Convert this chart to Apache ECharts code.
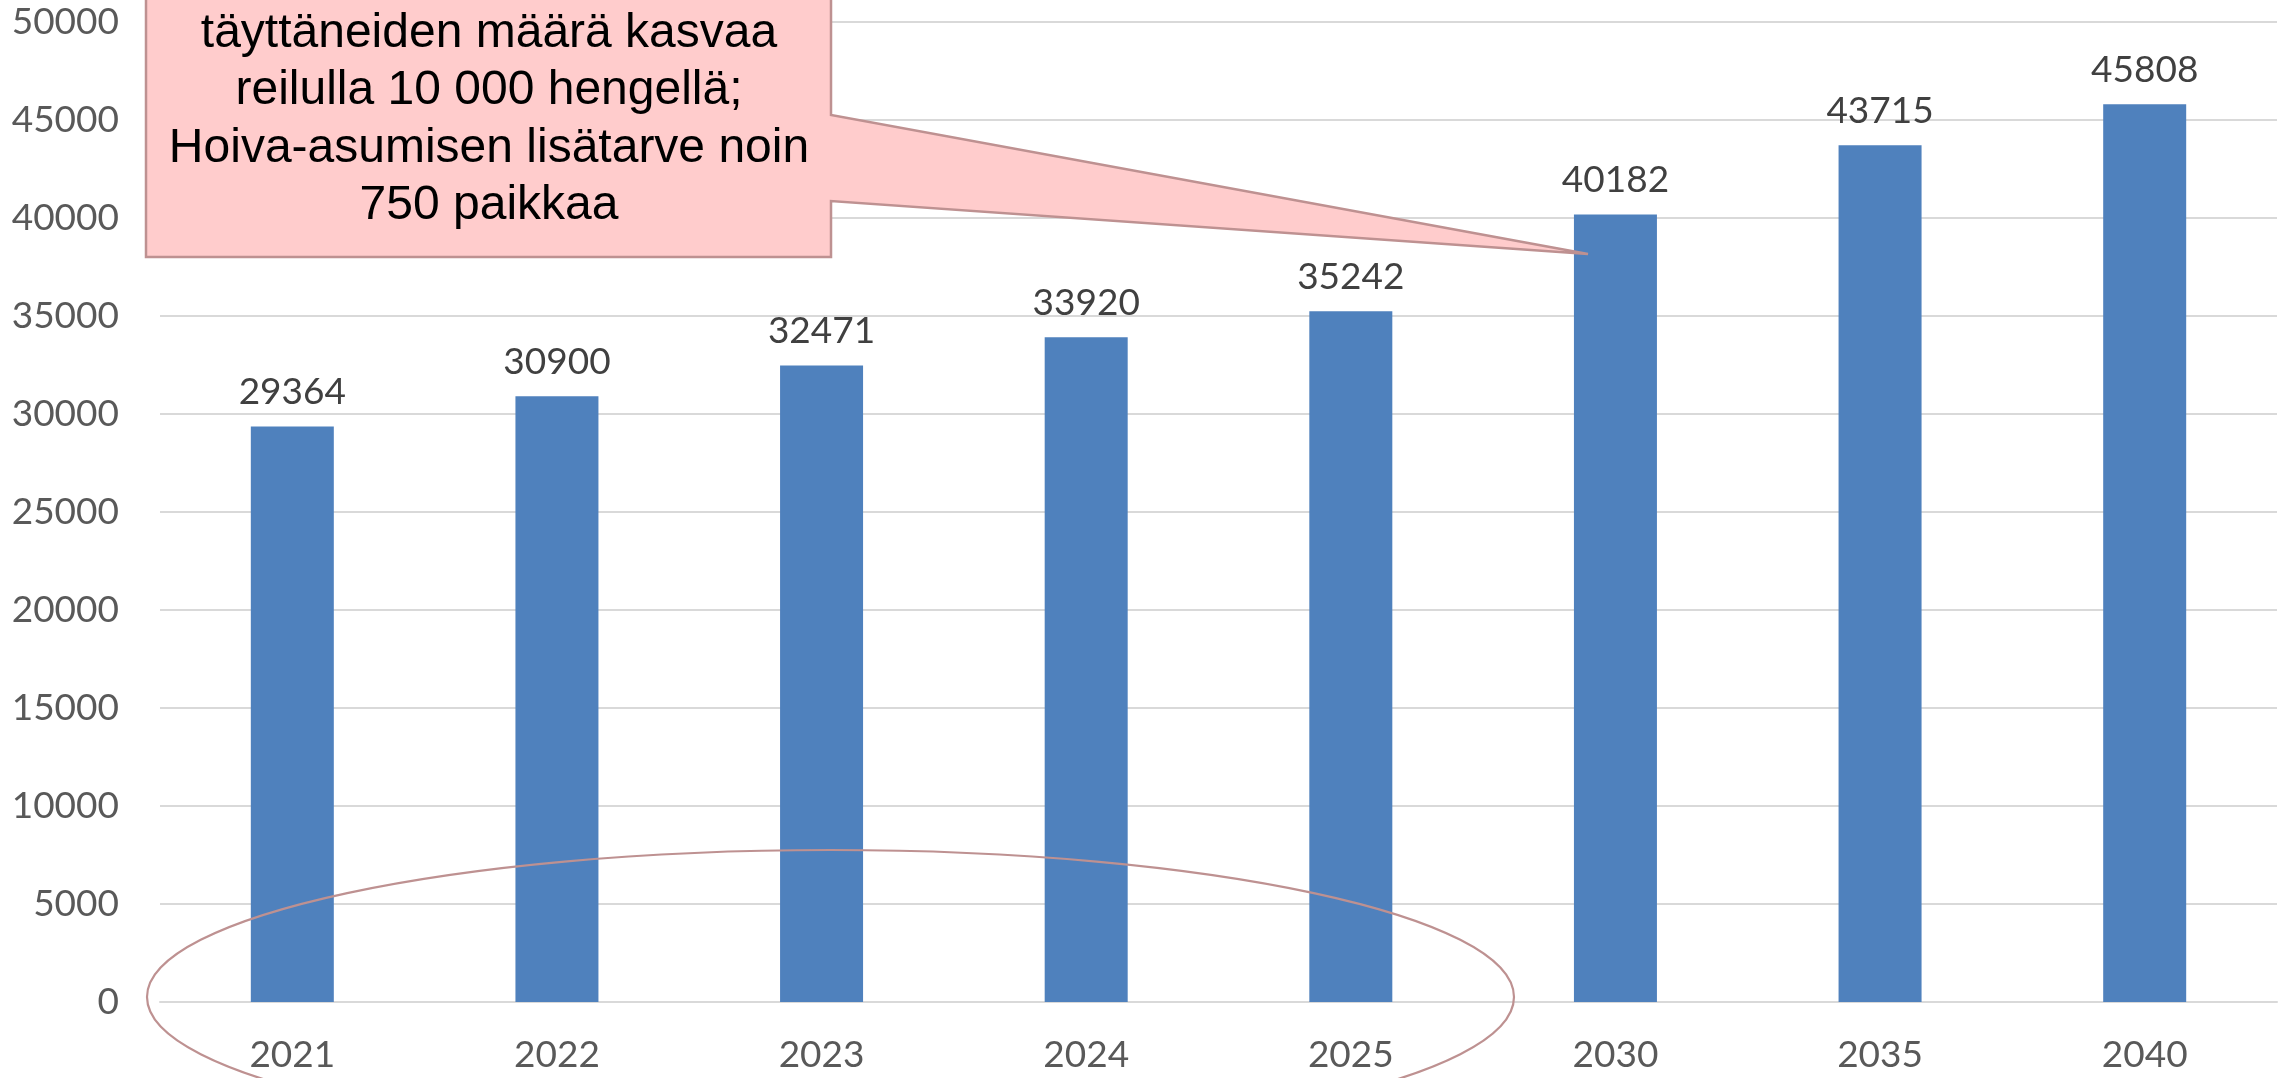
<!DOCTYPE html>
<html>
<head>
<meta charset="utf-8">
<script src="https://cdn.jsdelivr.net/npm/echarts@6/dist/echarts.min.js"></script>
<style>
  html, body { margin: 0; padding: 0; background: #fff; }
  #main { width: 2285px; height: 1078px; }
</style>
</head>
<body>
<div id="main"></div>
<script>
// vuodet ja henkilömäärät
const years = ['2021', '2022', '2023', '2024', '2025', '2030', '2035', '2040'];
const persons = [29364, 30900, 32471, 33920, 35242, 40182, 43715, 45808];
const yMin = 0, yMax = 50000, yStep = 5000;

const calloutLines = [
    'täyttäneiden määrä kasvaa',
    'reilulla 10 000 hengellä;',
    'Hoiva-asumisen lisätarve noin',
    '750 paikkaa'
];

const axisFont = 'Lato, "Open Sans", sans-serif';

let chart = echarts.init(document.getElementById('main'));

let option = {
    animation: false,
    backgroundColor: '#fff',
    grid: { left: 160, right: 8, top: 22, bottom: 76, containLabel: false, outerBoundsMode: 'none' },
    xAxis: {
        type: 'category',
        data: years,
        axisTick: { show: false },
        axisLine: { show: true, lineStyle: { color: '#D9D9D9', width: 2 } },
        axisLabel: { margin: 35, fontSize: 37, fontFamily: axisFont, color: '#595959' }
    },
    yAxis: {
        type: 'value',
        min: yMin,
        max: yMax,
        interval: yStep,
        axisLine: { show: false },
        axisTick: { show: false },
        splitLine: { lineStyle: { color: '#D9D9D9', width: 2 } },
        axisLabel: {
            margin: 41, fontSize: 37, fontFamily: axisFont, color: '#595959',
            formatter: function (v) { return String(v); }
        }
    },
    series: [{
        type: 'bar',
        data: persons,
        barWidth: 83,
        itemStyle: { color: '#4F81BD' },
        label: {
            show: true,
            position: 'top',
            distance: 16,
            fontSize: 37,
            fontFamily: axisFont,
            color: '#404040'
        }
    }],
    graphic: [
        {
            // puhekupla
            type: 'polygon',
            z: 100,
            shape: {
                points: [[146, -10], [831, -10], [831, 115], [1588, 254], [831, 201], [831, 257], [146, 257]]
            },
            style: { fill: '#FFCCCC', stroke: '#BE9191', lineWidth: 2.5 }
        },
        {
            type: 'text',
            z: 101,
            x: 489,
            y: 120,
            style: {
                text: calloutLines.join('\n'),
                font: '48px "Liberation Sans", Arial, sans-serif',
                fill: '#000',
                align: 'center',
                verticalAlign: 'middle',
                lineHeight: 57.5
            }
        },
        {
            // ellipsi vuosien 2021-2025 ympärillä
            type: 'ellipse',
            z: 100,
            shape: { cx: 830.5, cy: 997, rx: 683.5, ry: 147 },
            style: { fill: null, stroke: '#BE9191', lineWidth: 2.2 }
        }
    ]
};

chart.setOption(option);
</script>
</body>
</html>
